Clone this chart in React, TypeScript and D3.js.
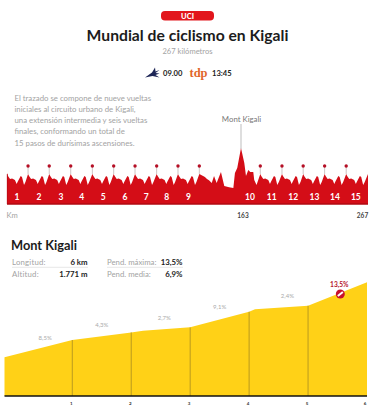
import React from "react";
import * as d3 from "d3";

const FONT = "Lato, 'Noto Sans', sans-serif";
const descLines = [
  "El trazado se compone de nueve vueltas",
  "iniciales al circuito urbano de Kigali,",
  "una extensión intermedia y seis vueltas",
  "finales, conformando un total de",
  "15 pasos de durísimas ascensiones.",
];
const profile: [number, number][] = [
  [0,1561],[0.7,1535],[2.1,1510],[3.5,1514],[5.5,1502],[6.7,1468],[7.3,1485],[9.5,1535],[10.4,1527],[11.8,1460],[12.8,1485],
  [14.6,1552],[15.3,1535],[16.7,1510],[18.1,1514],[20.1,1502],[21.3,1468],[21.9,1485],[24.1,1535],[25,1527],[26.4,1460],[27.4,1485],
  [29.3,1552],[30,1535],[31.4,1510],[32.8,1514],[34.8,1502],[36,1468],[36.6,1485],[38.8,1535],[39.7,1527],[41.1,1460],[42.1,1485],
  [44.2,1552],[44.9,1535],[46.3,1510],[47.7,1514],[49.7,1502],[50.9,1468],[51.5,1485],[53.7,1535],[54.6,1527],[56,1460],[57,1485],
  [59.2,1552],[59.9,1535],[61.3,1510],[62.7,1514],[64.7,1502],[65.9,1468],[66.5,1485],[68.7,1535],[69.6,1527],[71,1460],[72,1485],
  [74,1552],[74.7,1535],[76.1,1510],[77.5,1514],[79.5,1502],[80.7,1468],[81.3,1485],[83.5,1535],[84.4,1527],[85.8,1460],[86.8,1485],
  [88.8,1552],[89.5,1535],[90.9,1510],[92.3,1514],[94.3,1502],[95.5,1468],[96.1,1485],[98.3,1535],[99.2,1527],[100.6,1460],[101.6,1485],
  [103.8,1552],[104.5,1535],[105.9,1510],[107.3,1514],[109.3,1502],[110.5,1468],[111.1,1485],[113.3,1535],[114.2,1527],[115.6,1460],[116.6,1485],
  [118.6,1552],[119.3,1535],[120.7,1510],[122.1,1514],[124.1,1502],[125.3,1468],[125.9,1485],[128.1,1535],[129,1527],[130.4,1460],[131.4,1485],
  [133.4,1552],[137.3,1527],[138.7,1510],[140.1,1500],[142,1477],[143.6,1535],[145.4,1477],[148.4,1569],[150.7,1451],[154,1440],[157,1435],
  [158.1,1561],[159.7,1602],[162.3,1771],[164.9,1644],[166.3,1535],[168.2,1585],[169.8,1569],[172.3,1569],[173.1,1502],[175,1460],
  [178.1,1552],[178.9,1535],[180.6,1510],[182.2,1514],[184.7,1502],[186.1,1468],[186.8,1485],[189.4,1535],[190.5,1527],[192.1,1460],[193.4,1485],
  [196,1552],[196.8,1535],[198.5,1510],[200.1,1514],[202.6,1502],[204,1468],[204.7,1485],[207.3,1535],[208.4,1527],[210,1460],[211.3,1485],
  [213.5,1552],[214.3,1535],[216,1510],[217.6,1514],[220.1,1502],[221.5,1468],[222.2,1485],[224.8,1535],[225.9,1527],[227.5,1460],[228.8,1485],
  [231.2,1552],[232,1535],[233.7,1510],[235.3,1514],[237.8,1502],[239.2,1468],[239.9,1485],[242.5,1535],[243.6,1527],[245.2,1460],[246.5,1485],
  [249,1552],[249.8,1535],[251.5,1510],[253.1,1514],[255.6,1502],[257,1468],[257.7,1485],[260.3,1535],[261.4,1527],[263,1460],[264.3,1485],
  [267,1552],
];
const markerKm = [14.6, 29.3, 44.2, 59.2, 74, 88.8, 103.8, 118.6, 133.4, 178.1, 196, 213.5, 231.2, 249];
const lapLabelKm = [6.9, 22.2, 37.5, 51.8, 66.8, 81.8, 96.6, 110.8, 125.8, 169.6, 187.5, 205.3, 222.8, 239.7, 257];
const kmTicks = [163, 267];
const climb: [number, number][] = [
  [-0.15,1338],[1,1438],[2,1482],[2.2,1492],[3,1511],[4,1601],[4.1,1615],[5,1636],[6,1771],
];
const climbTicks = [1, 2, 3, 4, 5, 6];
const gradeLabels: [number, number, string][] = [
  [0.54,1439,"8,5%"],[1.5,1512,"4,3%"],[2.56,1551,"2,7%"],[3.5,1615,"9,1%"],[4.65,1679,"2,4%"],
];
const statsLeft = [["Longitud:", "6 km"], ["Altitud:", "1.771 m"]];
const statsRight = [["Pend. máxima:", "13,5%"], ["Pend. media:", "6,9%"]];

const RED = "#d40d17";
const GREY = "#a3a3a3";

export default function App() {
  const x = d3.scaleLinear().domain([0, 163, 267]).range([7, 242, 368]);
  const y = d3.scaleLinear().domain([1300, 1771]).range([204, 148]);
  const area = d3.area<[number, number]>().x(d => x(d[0])).y0(204).y1(d => y(d[1]))(profile)!;
  const cx = d3.scaleLinear().domain([-0.15, 6]).range([4.5, 367]);
  const cy = d3.scaleLinear().domain([1115, 1771]).range([396, 282.3]);
  const cArea = d3.area<[number, number]>().x(d => cx(d[0])).y0(396).y1(d => cy(d[1]))(climb)!;
  const interp = (k: number) => {
    const i = d3.bisectLeft(climb.map(d => d[0]), k);
    return climb[Math.max(i, 0)][1];
  };
  const elevAt = (k: number) => {
    const i = d3.bisector((d: [number, number]) => d[0]).left(profile, k);
    return profile[i][1];
  };
  return (
    <svg width={375} height={415} style={{ position: "absolute", left: 0, top: 0, background: "#fff" }} fontFamily={FONT}>
      <rect x={161} y={11} width={53} height={9.5} rx={4} fill="#e2161c" />
      <text x={187.5} y={18.6} textAnchor="middle" fontSize={7.5} fontWeight={900} fill="#fff">UCI</text>
      <text x={187.5} y={41} textAnchor="middle" fontSize={15.7} fontWeight={700} fill="#1c1c1c">Mundial de ciclismo en Kigali</text>
      <text x={187.5} y={53.5} textAnchor="middle" fontSize={7.6} fill={GREY}>267 kilómetros</text>
      <path d="M145 77.5 L152 72.5 L155 67.5 L155.5 71.5 L159.5 70 L155.5 73 L159.5 73.5 L155.5 75 L159.5 77.5 L152.5 76 Z" fill="#1d2556" />
      <text x={163} y={76} fontSize={7.6} fontWeight={700} fill="#1c1c1c">09.00</text>
      <text x={189.5} y={76.5} fontSize={12.5} fontWeight={700} fontFamily="'Liberation Serif', serif" fill="#e1662b">tdp</text>
      <text x={212} y={76} fontSize={7.6} fontWeight={700} fill="#1c1c1c">13:45</text>

      {descLines.map((l, i) => (
        <text key={l} x={14.5} y={100.5 + i * 11.3} fontSize={7.8} fill={GREY}>{l}</text>
      ))}

      {markerKm.map(k => (
        <line key={k} x1={x(k)} x2={x(k)} y1={166} y2={y(elevAt(k))} stroke="#b9a9a9" strokeWidth={0.7} />
      ))}
      <path d={area} fill={RED} />
      <line x1={7.3} x2={7.3} y1={174} y2={204} stroke="#b60a12" strokeWidth={0.7} />
      <line x1={7} x2={368} y1={204} y2={204} stroke="#b10a12" strokeWidth={1.6} />
      {markerKm.map(k => (
        <circle key={k} cx={x(k)} cy={166} r={1.7} fill="#b50f25" />
      ))}
      {lapLabelKm.map((k, i) => (
        <text key={k} x={x(k)} y={199.8} textAnchor="middle" fontSize={8.5} fontWeight={700} fill="#fff">{i + 1}</text>
      ))}
      <line x1={241} x2={241} y1={124} y2={149} stroke="#bdbdbd" strokeWidth={1} />
      <text x={241.5} y={122} textAnchor="middle" fontSize={7.8} fill="#777">Mont Kigali</text>
      <text x={6.5} y={218} fontSize={7.6} fill={GREY}>Km</text>
      {kmTicks.map(k => (
        <text key={k} x={k === 267 ? 362.5 : x(k) + 1} y={217.5} textAnchor="middle" fontSize={6.5} fontWeight={700} fill="#444">{k}</text>
      ))}

      <text x={11} y={250} fontSize={12.8} fontWeight={700} fill="#1c1c1c">Mont Kigali</text>
      {statsLeft.map(([a, b], i) => (
        <g key={a}>
          <text x={12} y={264.5 + i * 12} fontSize={7.8} fill={GREY} letterSpacing={0.2}>{a}</text>
          <text x={87.5} y={264.5 + i * 12} textAnchor="end" fontSize={7.8} fontWeight={700} fill="#1c1c1c">{b}</text>
        </g>
      ))}
      <line x1={12} x2={88} y1={267.3} y2={267.3} stroke="#ddd" strokeWidth={0.7} />
      {statsRight.map(([a, b], i) => (
        <g key={a}>
          <text x={107} y={264.5 + i * 12} fontSize={7.8} fill={GREY}>{a}</text>
          <text x={182.5} y={264.5 + i * 12} textAnchor="end" fontSize={7.8} fontWeight={700} fill="#1c1c1c">{b}</text>
        </g>
      ))}
      <line x1={107} x2={183} y1={267.3} y2={267.3} stroke="#ddd" strokeWidth={0.7} />

      <path d={cArea} fill="#ffd117" />
      {climbTicks.slice(0, 5).map(k => (
        <line key={k} x1={cx(k)} x2={cx(k)} y1={cy(interp(k))} y2={396} stroke="#a88c22" strokeWidth={0.8} />
      ))}
      <line x1={4.5} x2={367} y1={396} y2={396} stroke="#111" strokeWidth={1.4} />
      {climbTicks.map(k => (
        <text key={k} x={k === 6 ? cx(k) - 2 : cx(k) - 1} y={404.5} textAnchor="middle" fontSize={4.5} fontWeight={700} fill="#333">{k}</text>
      ))}
      {gradeLabels.map(([k, e, t]) => (
        <text key={t} x={cx(k)} y={cy(e)} textAnchor="middle" fontSize={6} fill="#aaa">{t}</text>
      ))}
      <text x={339.3} y={287} textAnchor="middle" fontSize={6.6} fontWeight={700} fill="#b5122b">13,5%</text>
      <circle cx={340.3} cy={294} r={4.5} fill="#c8102e" />
      <line x1={337.8} x2={342.8} y1={296} y2={292} stroke="#fff" strokeWidth={2} />
    </svg>
  );
}
